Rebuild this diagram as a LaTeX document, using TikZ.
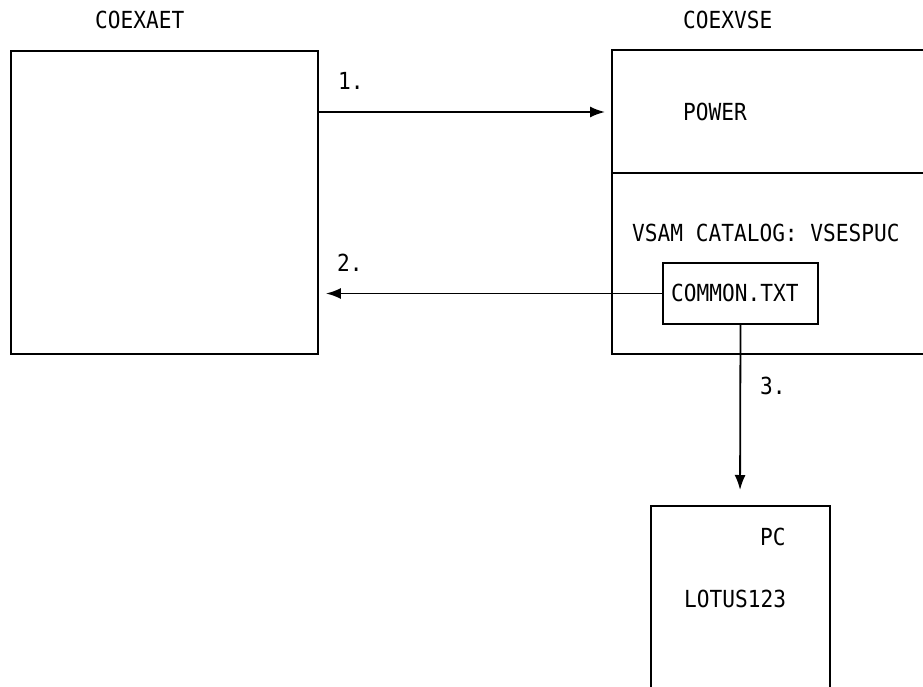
\documentclass[tikz,border=0pt]{standalone}
\usepackage{fontspec}
\setmonofont[FakeStretch=0.9]{DejaVu Sans Mono}
\usetikzlibrary{arrows.meta,positioning}
\tikzset{
  sysbox/.style={draw, line width=1.8pt, inner sep=0pt, minimum width=307pt, minimum height=303pt},
  filebox/.style={draw, line width=1.8pt, inner sep=0pt, minimum width=155pt, minimum height=61pt},
  txt/.style={anchor=west, inner sep=0pt, font=\ttfamily\fontsize{23.5}{28}\selectfont},
  frame/.style={line width=1.8pt},
  line/.style={-{Latex[length=15pt,width=11pt]}, line width=1.8pt, shorten >=7pt}
}

\begin{document}
\begin{tikzpicture}[x=1pt,y=-1pt]
  \useasboundingbox (0,0) rectangle (923,687);

  % host on the left
  \node[sysbox] (aet) at (164.5,202.5) {};
  \node[txt] (aetname) at (95,20) {COEXAET};

  % VSE system, open to the right
  \coordinate (vsenw) at (612,50);
  \coordinate (vsesw) at (612,354);
  \draw[frame] (923,50) -- (vsenw) -- (vsesw) -- (923,354);
  \draw[frame] (vsenw |- 0,173) -- (923,173);
  \node[txt] (vsename) at (683,20) {COEXVSE};
  \node[txt] (power) at (683,112) {POWER};
  \node[txt] (catalog) at (632,233) {VSAM CATALOG: VSESPUC};
  \node[filebox] (common) at (740.5,293.5) {};
  \node[txt] (commontxt) at (671,293) {COMMON.TXT};

  % PC, open at the bottom
  \coordinate (pctop) at (740,506);
  \draw[frame] (651,687) -- (651,506) -- (830,506) -- (830,687);
  \node[txt] (pc) at (760,537) {PC};
  \node[txt] (lotus) at (684,599) {LOTUS123};

  % transfers
  \draw[line] (aet.east |- power) -- (vsenw |- power);
  \node[txt] (step1) at (338,81) {1.};
  \draw[line] (common.west) -- (aet.east |- common.west);
  \node[txt] (step2) at (337,263) {2.};
  \draw[line, shorten >=16pt] (common.south) -- (pctop);
  \node[txt] (step3) at (760,386) {3.};
\end{tikzpicture}
\end{document}
